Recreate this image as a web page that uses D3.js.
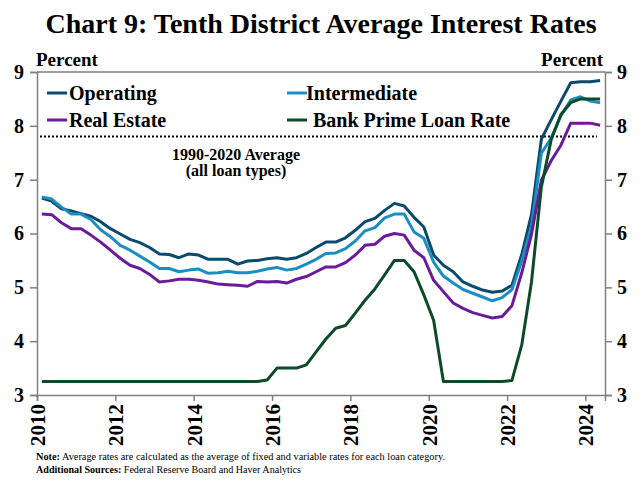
<!DOCTYPE html>
<html>
<head>
<meta charset="utf-8">
<script src="https://cdn.jsdelivr.net/npm/d3@7.9.0/dist/d3.min.js"></script>
<style>
  body { margin: 0; background: #fff; }
  svg { display: block; font-family: "Liberation Serif", "Times New Roman", serif; }
</style>
</head>
<body>
<svg id="chart" width="640" height="480"></svg>
<script>
// quarterly, 2010Q1 .. 2024Q2
const quarters = d3.range(58).map(i => `${2010 + Math.floor(i / 4)}Q${(i % 4) + 1}`);

const operating = [
  6.66, 6.60, 6.46, 6.42, 6.37, 6.32, 6.22, 6.09, 5.99, 5.89, 5.83, 5.74,
  5.62, 5.61, 5.55, 5.62, 5.60, 5.52, 5.52, 5.52, 5.43, 5.49, 5.50, 5.53,
  5.55, 5.52, 5.55, 5.63, 5.74, 5.84, 5.84, 5.92, 6.06, 6.22, 6.28, 6.43,
  6.56, 6.51, 6.30, 6.12, 5.60, 5.41, 5.29, 5.10, 5.02, 4.95, 4.91, 4.93,
  5.04, 5.61, 6.36, 7.75, 8.11, 8.46, 8.80, 8.82, 8.82, 8.84
];
const intermediate = [
  6.68, 6.64, 6.49, 6.36, 6.36, 6.26, 6.07, 5.94, 5.78, 5.69, 5.58, 5.47,
  5.35, 5.35, 5.29, 5.32, 5.34, 5.26, 5.27, 5.30, 5.27, 5.27,
  5.30, 5.34, 5.37, 5.32, 5.35, 5.43, 5.52, 5.63, 5.64, 5.72, 5.86, 6.05,
  6.11, 6.29, 6.36, 6.36, 6.03, 5.91, 5.47, 5.21, 5.08, 4.96, 4.89, 4.82,
  4.75, 4.81, 4.96, 5.49, 6.14, 7.49, 7.77, 8.19, 8.48, 8.54, 8.46, 8.43
];
const realEstate = [
  6.36, 6.35, 6.20, 6.09, 6.09, 5.97, 5.84, 5.69, 5.54, 5.41, 5.35, 5.24,
  5.10, 5.12, 5.15, 5.15, 5.13, 5.10, 5.06, 5.05, 5.04, 5.02, 5.11, 5.10,
  5.11, 5.08, 5.15, 5.20, 5.29, 5.38, 5.38, 5.46, 5.60, 5.78, 5.80, 5.95,
  6.00, 5.97, 5.69, 5.55, 5.13, 4.92, 4.71, 4.61, 4.53, 4.48, 4.43, 4.46,
  4.66, 5.27, 5.99, 6.99, 7.35, 7.64, 8.05, 8.05, 8.05, 8.01
];
const primeRate = [
  3.25, 3.25, 3.25, 3.25, 3.25, 3.25, 3.25, 3.25, 3.25, 3.25, 3.25, 3.25,
  3.25, 3.25, 3.25, 3.25, 3.25, 3.25, 3.25, 3.25, 3.25, 3.25, 3.25, 3.28,
  3.50, 3.50, 3.50, 3.56, 3.80, 4.04, 4.24, 4.29, 4.52, 4.76, 4.97, 5.23,
  5.50, 5.50, 5.29, 4.86, 4.39, 3.25, 3.25, 3.25, 3.25, 3.25, 3.25, 3.25,
  3.27, 3.93, 5.11, 6.86, 7.74, 8.21, 8.43, 8.50, 8.50, 8.50
];
const longRunAverage = 7.8;

const seriesNames = ['Operating', 'Intermediate', 'Real Estate', 'Bank Prime Loan Rate'];
const seriesColors = ['#0c4a6b', '#1b8dc0', '#6a1b9a', '#0d4a2a'];
const yTicks = [3, 4, 5, 6, 7, 8, 9];
const xTicks = [2010, 2012, 2014, 2016, 2018, 2020, 2022, 2024];

const series = [operating, intermediate, realEstate, primeRate].map((vals, k) => ({
  name: seriesNames[k],
  color: seriesColors[k],
  values: vals.map((v, i) => ({ q: quarters[i], t: 2010 + (i + 0.5) / 4, v }))
}));

const svg = d3.select('#chart');
const margin = { top: 72, right: 35, bottom: 85, left: 37 };
const width = 640, height = 480;

const x = d3.scaleLinear().domain([2010, 2024.5]).range([margin.left, width - margin.right]);
const y = d3.scaleLinear().domain([3, 9]).range([height - margin.bottom, margin.top]);

// title
svg.append('text')
  .attr('x', 321).attr('y', 33)
  .attr('text-anchor', 'middle')
  .style('font-size', '28px').style('font-weight', 'bold')
  .text('Chart 9: Tenth District Average Interest Rates');

// frame
const axisColor = '#7f7f7f';
svg.append('line')
  .attr('x1', x.range()[0]).attr('x2', x.range()[1])
  .attr('y1', y(9)).attr('y2', y(9))
  .attr('stroke', axisColor).attr('stroke-width', 1.5);

const yLeft = svg.append('g')
  .attr('transform', `translate(${margin.left},0)`)
  .call(d3.axisLeft(y).tickValues(yTicks).tickSize(7).tickFormat(d3.format('d')));
const yRight = svg.append('g')
  .attr('transform', `translate(${width - margin.right},0)`)
  .call(d3.axisRight(y).tickValues(yTicks).tickSize(7).tickFormat(d3.format('d')));
const xAxis = svg.append('g')
  .attr('transform', `translate(0,${y(3)})`)
  .call(d3.axisBottom(x).tickValues(xTicks).tickSize(6).tickFormat(d3.format('d')));

[yLeft, yRight, xAxis].forEach(g => {
  g.select('.domain').attr('stroke', axisColor).attr('stroke-width', 1.5);
  g.selectAll('.tick line').attr('stroke', axisColor).attr('stroke-width', 1.5);
  g.selectAll('.tick text')
    .attr('fill', '#000')
    .style('font-family', '"Liberation Serif", serif')
    .style('font-weight', 'bold')
    .style('font-size', '20px');
});
yLeft.selectAll('.tick text').attr('x', -13);
yRight.selectAll('.tick text').attr('x', 12);
xAxis.selectAll('.tick text')
  .style('font-size', '21px')
  .attr('transform', 'rotate(-90)')
  .attr('text-anchor', 'end')
  .attr('x', -9).attr('y', 0).attr('dy', '0.36em');

// axis unit labels
svg.append('text').attr('x', 36).attr('y', 66)
  .style('font-size', '19px').style('font-weight', 'bold').text('Percent');
svg.append('text').attr('x', 603).attr('y', 66).attr('text-anchor', 'end')
  .style('font-size', '19px').style('font-weight', 'bold').text('Percent');

// long-run average
svg.append('line')
  .attr('x1', 40).attr('x2', 597)
  .attr('y1', y(longRunAverage)).attr('y2', y(longRunAverage))
  .attr('stroke', '#000').attr('stroke-width', 2)
  .attr('stroke-dasharray', '2,2');
svg.append('text').attr('x', 236).attr('y', 160).attr('text-anchor', 'middle')
  .style('font-size', '16px').style('font-weight', 'bold').text('1990-2020 Average');
svg.append('text').attr('x', 236).attr('y', 176).attr('text-anchor', 'middle')
  .style('font-size', '16px').style('font-weight', 'bold').text('(all loan types)');

// lines
const line = d3.line().x(d => x(d.t)).y(d => y(d.v));
svg.append('g').selectAll('path')
  .data(series)
  .join('path')
  .attr('d', d => line(d.values))
  .attr('fill', 'none')
  .attr('stroke', d => d.color)
  .attr('stroke-width', 3)
  .attr('stroke-linejoin', 'round');

// legend
const legendPos = [
  { lx: 47, ly: 93, tx: 69 },
  { lx: 287, ly: 93, tx: 306 },
  { lx: 47, ly: 120, tx: 69 },
  { lx: 287, ly: 120, tx: 313 }
];
const legend = svg.append('g').selectAll('g')
  .data(series)
  .join('g');
legend.append('line')
  .attr('x1', (d, i) => legendPos[i].lx)
  .attr('x2', (d, i) => legendPos[i].lx + 20)
  .attr('y1', (d, i) => legendPos[i].ly)
  .attr('y2', (d, i) => legendPos[i].ly)
  .attr('stroke', d => d.color).attr('stroke-width', 3);
legend.append('text')
  .attr('x', (d, i) => legendPos[i].tx)
  .attr('y', (d, i) => legendPos[i].ly + 7)
  .style('font-size', '20px').style('font-weight', 'bold')
  .text(d => d.name);

// notes
const note = svg.append('text').attr('x', 36).attr('y', 460)
  .style('font-size', '11px')
  .attr('textLength', 409).attr('lengthAdjust', 'spacingAndGlyphs');
note.append('tspan').style('font-weight', 'bold').text('Note:');
note.append('tspan').text(' Average rates are calculated as the average of fixed and variable rates for each loan category.');

const src = svg.append('text').attr('x', 36).attr('y', 473)
  .style('font-size', '11px')
  .attr('textLength', 265).attr('lengthAdjust', 'spacingAndGlyphs');
src.append('tspan').style('font-weight', 'bold').text('Additional Sources:');
src.append('tspan').text(' Federal Reserve Board and Haver Analytics');
</script>
</body>
</html>
